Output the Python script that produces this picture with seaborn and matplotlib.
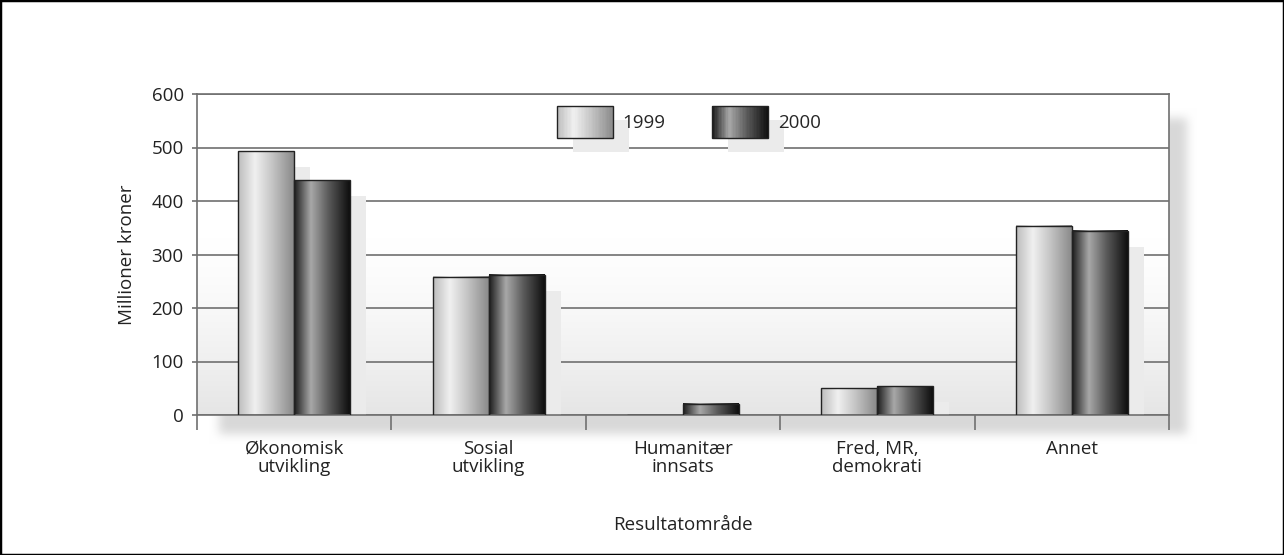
import numpy as np
import pandas as pd
import matplotlib.pyplot as plt
import matplotlib.transforms as mtransforms
import seaborn as sns
from matplotlib.patches import Rectangle
from matplotlib.legend_handler import HandlerBase
from matplotlib.colors import LinearSegmentedColormap

CATEGORIES = ['Økonomisk\nutvikling', 'Sosial\nutvikling', 'Humanitær\ninnsats',
              'Fred, MR,\ndemokrati', 'Annet']
YEARS = ['1999', '2000']
VALUES_1999 = [493, 258, 0, 50, 354]
VALUES_2000 = [439, 262, 21, 54, 344]
Y_TICKS = [0, 100, 200, 300, 400, 500, 600]

GRADIENTS = {
    '1999': [(0.0, '#bcbcbc'), (0.3, '#f0f0f0'), (0.62, '#c4c4c4'), (1.0, '#8a8a8a')],
    '2000': [(0.0, '#1c1c1c'), (0.3, '#a8a8a8'), (0.62, '#5a5a5a'), (1.0, '#0e0e0e')],
}
CMAPS = {k: LinearSegmentedColormap.from_list(k, v) for k, v in GRADIENTS.items()}
GRID = '#707070'
SHADOW = '#ebebeb'
FS = 13.5

sns.set_theme(style='white')
plt.rcParams['font.family'] = ['Open Sans', 'DejaVu Sans']
plt.rcParams['font.size'] = FS


class GradientHandler(HandlerBase):
    def __init__(self, cmap):
        super().__init__()
        self.cmap = cmap

    def create_artists(self, legend, orig_handle, xdescent, ydescent,
                       width, height, fontsize, trans):
        x0, y0 = -xdescent, -ydescent
        arts = [Rectangle((x0 + 11.5, y0 - 10), width, height, facecolor=SHADOW,
                          edgecolor='none', transform=trans)]
        n = 40
        for i in range(n):
            arts.append(Rectangle((x0 + i * width / n, y0), width / n + 0.05, height,
                                  facecolor=self.cmap((i + 0.5) / n), edgecolor='none',
                                  transform=trans))
        arts.append(Rectangle((x0, y0), width, height, fill=False, edgecolor='#222222',
                              lw=1, transform=trans))
        return arts


def box_blur(a, r):
    k = 2 * r + 1
    for axis in (0, 1):
        p = np.pad(a, [(r, r) if i == axis else (0, 0) for i in (0, 1)], mode='edge')
        c = np.cumsum(p, axis=axis)
        c = np.concatenate([np.zeros_like(np.take(c, [0], axis=axis)), c], axis=axis)
        a = (np.take(c, range(k, c.shape[axis]), axis=axis)
             - np.take(c, range(0, c.shape[axis] - k), axis=axis)) / k
    return a


df = pd.DataFrame({
    'Resultatområde': CATEGORIES * 2,
    'År': [YEARS[0]] * len(CATEGORIES) + [YEARS[1]] * len(CATEGORIES),
    'Verdi': VALUES_1999 + VALUES_2000,
})

W, H = 1284, 555
fig = plt.figure(figsize=(W / 100, H / 100), dpi=100)
ax = fig.add_axes([197 / W, 140 / H, 972 / W, 321 / H])

# soft drop shadow behind the plot area
pos = ax.get_position()
mask = np.zeros((H, W))
x0, x1 = int(pos.x0 * W) + 22, int(pos.x1 * W) + 18
y0, y1 = int((1 - pos.y1) * H) + 24, int((1 - pos.y0) * H) + 19
mask[y0:y1, x0:x1] = 1.0
mask = box_blur(box_blur(mask, 5), 5)
shade = 1 - 0.15 * mask
fig.figimage(np.dstack([shade] * 3), xo=0, yo=0, origin='upper', zorder=-1)

sns.barplot(data=df, x='Resultatområde', y='Verdi', hue='År', palette=['#cccccc', '#444444'],
            width=0.576, gap=0, saturation=1, edgecolor='#222222', linewidth=1,
            errorbar=None, legend=False, ax=ax)

# plot area gradient
t = np.linspace(0, 1, 200)
v = 1 - 0.1 * np.clip((t - 0.45) / 0.55, 0, 1) ** 1.4
ax.imshow(np.dstack([v[:, None]] * 3), extent=[0, 1, 0, 1], transform=ax.transAxes,
          aspect='auto', zorder=0)

shift = mtransforms.ScaledTranslation(16 / 100, -16 / 100, fig.dpi_scale_trans)
for cont, year in zip(ax.containers, YEARS):
    row = CMAPS[year](np.linspace(0, 1, 128))[None, :, :]
    for bar in cont:
        x, w, h = bar.get_x(), bar.get_width(), bar.get_height()
        ax.add_patch(Rectangle((x, 0), w, h, facecolor=SHADOW, edgecolor='none',
                               transform=ax.transData + shift, zorder=1.5))
        ax.imshow(row, extent=[x, x + w, 0, h], aspect='auto', zorder=2.5,
                  interpolation='bilinear')
        bar.set_facecolor('none')
        bar.set_zorder(3)

ax.set_xlim(-0.5, len(CATEGORIES) - 0.5)
ax.set_ylim(0, 600)
ax.set_yticks(Y_TICKS)
ax.yaxis.grid(True, color=GRID, lw=1.2)
ax.set_axisbelow(True)
for s in ax.spines.values():
    s.set_color(GRID)
    s.set_linewidth(1.2)

ax.set_xticks(np.arange(-0.5, len(CATEGORIES), 1))
ax.set_xticklabels([])
ax.set_xticks(np.arange(len(CATEGORIES)), CATEGORIES, minor=True)
ax.tick_params(axis='x', which='major', bottom=True, length=11, width=1.2, color=GRID)
ax.tick_params(axis='x', which='minor', bottom=True, length=0, pad=18, labelsize=FS,
               labelcolor='#222222')
ax.tick_params(axis='y', left=True, length=3.6, width=1.2, color=GRID, pad=6,
               labelsize=FS, labelcolor='#222222')
for lab in ax.get_xticklabels(minor=True):
    lab.set_linespacing(1.0)

ax.set_xlabel('Resultatområde', fontsize=FS, color='#222222', labelpad=29)
ax.set_ylabel('Millioner kroner', fontsize=FS, color='#222222', labelpad=11)

handles = [Rectangle((0, 0), 1, 1) for _ in YEARS]
ax.legend(handles, YEARS, handler_map={h: GradientHandler(CMAPS[y]) for h, y in zip(handles, YEARS)},
          loc='upper center', bbox_to_anchor=(0.506, 0.963), ncol=2, frameon=False,
          borderpad=0, borderaxespad=0, handlelength=2.99, handleheight=2.245,
          handletextpad=0.5, columnspacing=2.5, fontsize=FS)

fig.add_artist(Rectangle((0, 0), 1, 1, transform=fig.transFigure, fill=False,
                         edgecolor='black', lw=2.5))

fig.savefig('out.png', dpi=100)
